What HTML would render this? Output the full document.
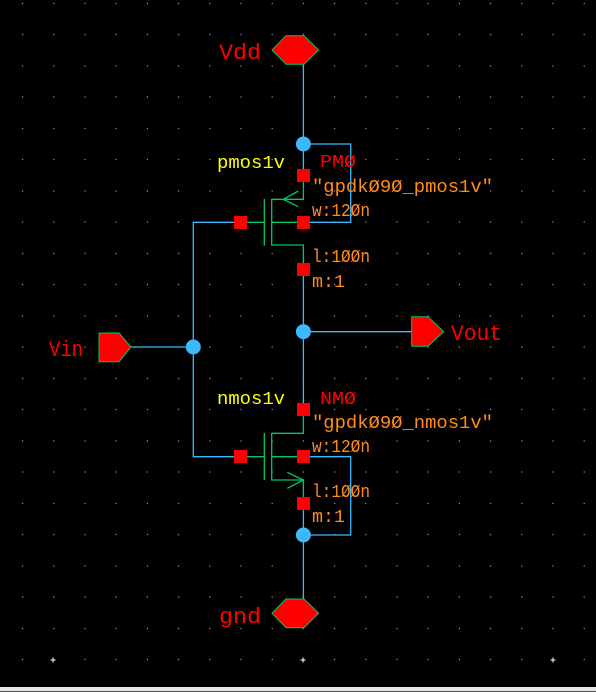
<!DOCTYPE html>
<html><head><meta charset="utf-8"><style>
html,body{margin:0;padding:0;background:#000;}
svg{display:block}
text{font-family:"Liberation Mono",monospace;}
</style></head><body>
<svg width="596" height="692" viewBox="0 0 596 692" xmlns="http://www.w3.org/2000/svg">
<rect width="596" height="692" fill="#000"/>
<g stroke="#8c8cc0" stroke-width="1.2" stroke-dasharray="1.2 30">
<path d="M22 3.5H596M22 34.5H596M22 66H596M22 97H596M22 128.5H596M22 159.5H596M22 191H596M22 222H596M22 253.5H596M22 284.5H596M22 316H596M22 347H596M22 378.5H596M22 409.5H596M22 441H596M22 472H596M22 503.5H596M22 534.5H596M22 566H596M22 597H596M22 628.5H596M22 659.5H596"/>
</g>
<g stroke="#fff" stroke-width="1">
<path d="M50.5 660h5M53 657.5v5M300.5 660h5M303 657.5v5M550.5 660h5M553 657.5v5"/>
</g>
<rect x="0" y="687" width="596" height="5" fill="#e8e8e8"/>
<rect x="0" y="691" width="596" height="1" fill="#555"/>

<g stroke="#3cb8ff" stroke-width="1.3" fill="none">
<path d="M303.4 64V170"/>
<path d="M303.4 144H350.7V222.3H309"/>
<path d="M303.4 276V403"/>
<path d="M303.4 331.7H412"/>
<path d="M131 347H193.3"/>
<path d="M234 222.3H193.3V456.7H234"/>
<path d="M303.4 510V600"/>
<path d="M309 456.7H350.7V535H303.4"/>
</g>
<g fill="#3cb8ff">
<circle cx="303.4" cy="144" r="7.5"/>
<circle cx="303.4" cy="331.7" r="7.5"/>
<circle cx="193.3" cy="347" r="7.5"/>
<circle cx="303.4" cy="535" r="7.5"/>
</g>

<g stroke="#00c864" stroke-width="1.3" fill="none">
<path d="M303.4 182V199.3H271.7V245H303.4V263"/>
<path d="M264.3 199V245.7"/>
<path d="M246 222.3H264.3M271.7 222.3H297"/>
<path d="M298.3 191L283.3 199.3L298.3 206.7"/>
<path d="M303.4 416V433.3H271.7V480H303.4V497"/>
<path d="M264.3 433V480"/>
<path d="M246 456.7H264.3M271.7 456.7H297"/>
<path d="M287.3 472.3L303.4 480L287.3 488.3"/>
</g>

<g fill="#ff0000">
<rect x="297" y="169" width="13" height="13"/>
<rect x="234" y="216" width="13" height="13"/>
<rect x="297" y="216" width="13" height="13"/>
<rect x="297" y="263" width="13" height="13"/>
<rect x="297" y="403" width="13" height="13"/>
<rect x="234" y="450" width="13" height="13"/>
<rect x="297" y="450" width="13" height="13"/>
<rect x="297" y="497" width="13" height="13"/>
</g>

<g fill="#ff0000" stroke="#00c864" stroke-width="1">
<polygon points="286,35.7 304,35.7 318.6,50 304,64.3 286,64.3 272,50"/>
<polygon points="286,599 304,599 318.6,613.3 304,627.7 286,627.7 272,613.3"/>
<polygon points="99,333 119,333 131,347 119,361.7 99,361.7"/>
<polygon points="411.7,316.7 428,316.7 443.7,331.7 428,346.3 411.7,346.3"/>
</g>

<g fill="#ff0000" font-size="22">
<text x="219" y="59" textLength="42" lengthAdjust="spacingAndGlyphs">Vdd</text>
<text x="219" y="623" textLength="42" lengthAdjust="spacingAndGlyphs">gnd</text>
<text x="49" y="356" textLength="34" lengthAdjust="spacingAndGlyphs">Vin</text>
<text x="451" y="340" textLength="51" lengthAdjust="spacingAndGlyphs">Vout</text>
</g>
<g font-size="18.8">
<text x="217" y="168" fill="#ffff00" textLength="68" lengthAdjust="spacingAndGlyphs">pmos1v</text>
<text x="320" y="167" fill="#ff0000" textLength="36" lengthAdjust="spacingAndGlyphs">PMØ</text>
<text x="217" y="404" fill="#ffff00" textLength="68" lengthAdjust="spacingAndGlyphs">nmos1v</text>
<text x="320" y="404" fill="#ff0000" textLength="36" lengthAdjust="spacingAndGlyphs">NMØ</text>
</g>
<g font-size="18.8" fill="#ff8c1a">
<text x="312" y="192" textLength="181" lengthAdjust="spacingAndGlyphs">"gpdkØ9Ø_pmos1v"</text>
<text x="312" y="216" textLength="58" lengthAdjust="spacingAndGlyphs">w:12Øn</text>
<text x="312" y="262" textLength="58" lengthAdjust="spacingAndGlyphs">l:1ØØn</text>
<text x="312" y="287" textLength="33" lengthAdjust="spacingAndGlyphs">m:1</text>
<text x="312" y="428" textLength="181" lengthAdjust="spacingAndGlyphs">"gpdkØ9Ø_nmos1v"</text>
<text x="312" y="452" textLength="58" lengthAdjust="spacingAndGlyphs">w:12Øn</text>
<text x="312" y="497" textLength="58" lengthAdjust="spacingAndGlyphs">l:1ØØn</text>
<text x="312" y="522" textLength="33" lengthAdjust="spacingAndGlyphs">m:1</text>
</g>
</svg>
</body></html>
